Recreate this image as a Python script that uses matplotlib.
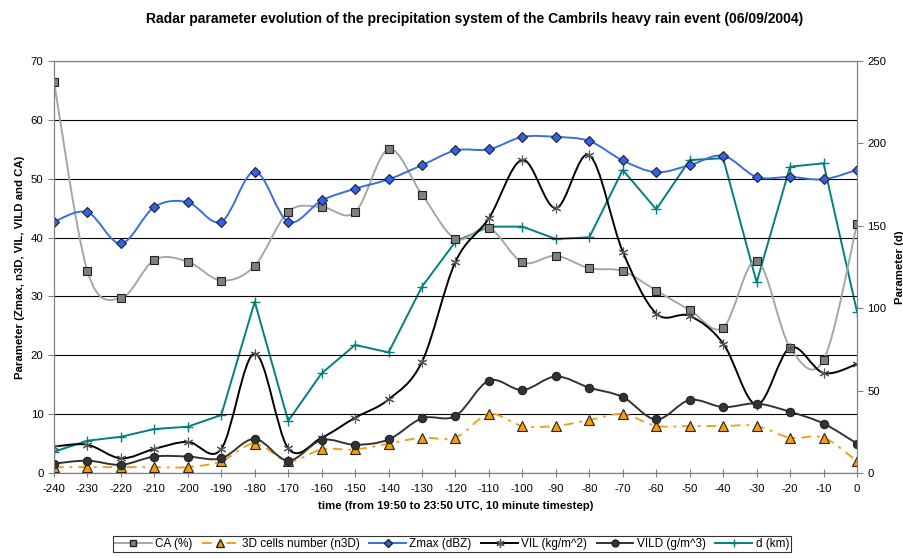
import numpy as np
import matplotlib
matplotlib.use('Agg')
import matplotlib.pyplot as plt
from matplotlib.path import Path
from matplotlib.patches import PathPatch
from matplotlib.lines import Line2D

plt.rcParams['font.family'] = ['Liberation Sans', 'DejaVu Sans']
plt.rcParams['axes.unicode_minus'] = False

time = list(range(-240, 1, 10))

ca = [66.5, 34.3, 29.7, 36.2, 35.9, 32.7, 35.2, 44.4, 45.2, 44.3, 55.0, 47.3, 39.8,
      41.6, 35.8, 36.9, 34.8, 34.3, 31.0, 27.7, 24.7, 36.1, 21.3, 19.2, 42.3]
n3d = [1, 1, 1, 1, 1, 2, 5, 2, 4, 4, 5, 6, 6, 10, 8, 8, 9, 10, 8, 8, 8, 8, 6, 6, 2]
zmax = [42.7, 44.3, 39.0, 45.2, 46.0, 42.7, 51.2, 42.7, 46.3, 48.3, 49.9, 52.3, 54.8,
        55.0, 57.1, 57.1, 56.4, 53.1, 51.1, 52.3, 53.9, 50.3, 50.3, 49.9, 51.5]
vil = [4.5, 4.8, 2.5, 4.1, 5.3, 4.1, 20.3, 4.2, 6.0, 9.4, 12.5, 18.9, 35.9,
       43.3, 53.2, 45.0, 54.0, 37.6, 27.1, 26.7, 22.0, 11.6, 21.3, 17.0, 18.5]
vild = [1.6, 2.1, 1.4, 2.8, 2.8, 2.5, 5.8, 2.1, 5.6, 4.8, 5.7, 9.3, 9.7,
        15.7, 14.1, 16.4, 14.5, 12.9, 9.1, 12.4, 11.2, 11.8, 10.4, 8.4, 5.0]
dist = [12.9, 19.6, 22.0, 26.7, 28.1, 35.2, 104.0, 31.6, 60.5, 77.7, 73.2, 113.1, 140.4,
        149.5, 149.5, 142.0, 143.0, 183.9, 160.0, 189.9, 191.0, 115.7, 185.9, 187.9, 97.9]


def smooth_path(x, y):
    # Excel-like smoothed line: cubic Bezier segments through every point
    p = np.column_stack([x, y]).astype(float)
    ext = np.vstack([p[0], p, p[-1]])
    verts = [p[0]]
    codes = [Path.MOVETO]
    for i in range(len(p) - 1):
        c1 = p[i] + (ext[i + 2] - ext[i]) / 6
        c2 = p[i + 1] - (ext[i + 3] - ext[i + 1]) / 6
        verts += [c1, c2, p[i + 1]]
        codes += [Path.CURVE4] * 3
    return Path(verts, codes)


fig = plt.figure(figsize=(9.04, 5.58), dpi=100)
ax = fig.add_axes([0.0597, 0.1523, 0.8883, 0.7384])
ax2 = ax.twinx()
ax.set_zorder(ax2.zorder + 1)
ax.patch.set_visible(False)

series = [
    (ca, '#a6a6a6', '-', 's', '#808080', 6, 'CA (%)'),
    (n3d, '#f0a020', (0, (5, 3, 1.5, 3)), '^', '#f5a000', 7, '3D cells number (n3D)'),
    (zmax, '#3a6ee0', '-', 'D', '#2f62f0', 5.5, 'Zmax (dBZ)'),
    (vil, '#000000', '-', (6, 2, 0), '#555555', 7, 'VIL (kg/m^2)'),
    (vild, '#333333', '-', 'o', '#333333', 6, 'VILD (g/m^3)'),
]

handles = []
for vals, lc, ls, mk, mc, ms, lab in series:
    edge = mc if mk == (6, 2, 0) else '#222222'
    ax.add_patch(PathPatch(smooth_path(time, vals), fill=False, edgecolor=lc,
                           linestyle=ls, lw=1.4))
    ax.plot(time, vals, linestyle='none', marker=mk, markersize=ms,
            markerfacecolor=mc, markeredgecolor=edge, markeredgewidth=0.8)
    handles.append(Line2D([], [], color=lc, linestyle=ls, lw=1.4, marker=mk,
                          markersize=ms - 1, markerfacecolor=mc,
                          markeredgecolor=edge, label=lab))

ax2.plot(time, dist, color='#008080', lw=1.4, marker='+', markersize=7,
         markeredgewidth=1)
handles.append(Line2D([], [], color='#008080', lw=1.4, marker='+', markersize=6,
                      label='d (km)'))

ax.set_xlim(-240, 0)
ax.set_ylim(0, 70)
ax2.set_ylim(0, 250)
ax.set_xticks(time)
ax.set_yticks(range(0, 71, 10))
ax2.set_yticks(range(0, 251, 50))
ax.yaxis.grid(True, color='#000000', lw=0.8)
ax.set_axisbelow(True)

for a in (ax, ax2):
    for s in a.spines.values():
        s.set_color('#808080')
    a.tick_params(labelsize=8.2, colors='#000000', length=4, color='#808080')
ax.tick_params(axis='x', direction='inout', length=6, pad=5)

ax.set_xlabel('time (from 19:50 to 23:50 UTC, 10 minute timestep)', fontsize=8.2,
              fontweight='bold', labelpad=5)
ax.set_ylabel('Parameter (Zmax, n3D, VIL, VILD and CA)', fontsize=8.2,
              fontweight='bold', labelpad=4)
ax2.set_ylabel('Parameter (d)', fontsize=8.2, fontweight='bold', labelpad=6)
fig.suptitle('Radar parameter evolution of the precipitation system of the '
             'Cambrils heavy rain event (06/09/2004)', fontsize=10,
             fontweight='bold', x=0.525, y=0.978)

leg = fig.legend(handles=handles, loc='center', bbox_to_anchor=(0.5, 0.025), ncol=6,
                 fontsize=8.5, frameon=True, fancybox=False, edgecolor='#000000',
                 handlelength=3.1, handletextpad=0.3, columnspacing=0.8,
                 borderpad=0.2)
leg.get_frame().set_linewidth(0.8)

fig.savefig('out.png', dpi=100)
